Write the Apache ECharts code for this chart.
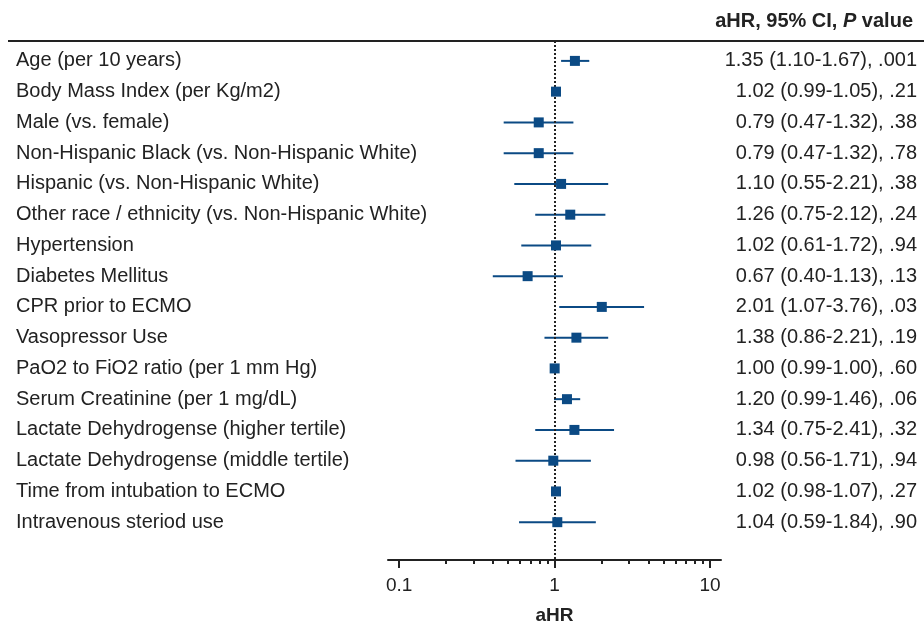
<!DOCTYPE html>
<html>
<head>
<meta charset="utf-8">
<script src="https://cdn.jsdelivr.net/npm/echarts@6/dist/echarts.min.js"></script>
<style>html,body{margin:0;padding:0;background:#fff}#c{width:924px;height:630px}</style>
</head>
<body>
<div id="c"></div>
<script>
const categories = [
  "Age (per 10 years)",
  "Body Mass Index (per Kg/m2)",
  "Male (vs. female)",
  "Non-Hispanic Black (vs. Non-Hispanic White)",
  "Hispanic (vs. Non-Hispanic White)",
  "Other race / ethnicity (vs. Non-Hispanic White)",
  "Hypertension",
  "Diabetes Mellitus",
  "CPR prior to ECMO",
  "Vasopressor Use",
  "PaO2 to FiO2 ratio (per 1 mm Hg)",
  "Serum Creatinine (per 1 mg/dL)",
  "Lactate Dehydrogense (higher tertile)",
  "Lactate Dehydrogense (middle tertile)",
  "Time from intubation to ECMO",
  "Intravenous steriod use"
];
const hr    = [1.35, 1.02, 0.79, 0.79, 1.10, 1.26, 1.02, 0.67, 2.01, 1.38, 1.00, 1.20, 1.34, 0.98, 1.02, 1.04];
const lower = [1.10, 0.99, 0.47, 0.47, 0.55, 0.75, 0.61, 0.40, 1.07, 0.86, 0.99, 0.99, 0.75, 0.56, 0.98, 0.59];
const upper = [1.67, 1.05, 1.32, 1.32, 2.21, 2.12, 1.72, 1.13, 3.76, 2.21, 1.00, 1.46, 2.41, 1.71, 1.07, 1.84];
const pvals = [".001", ".21", ".38", ".78", ".38", ".24", ".94", ".13", ".03", ".19", ".60", ".06", ".32", ".94", ".27", ".90"];
const majorTicks = [0.1, 1, 10];
const minorTicks = [0.2, 0.3, 0.4, 0.5, 0.6, 0.7, 0.8, 0.9, 2, 3, 4, 5, 6, 7, 8, 9];

const L = Math.log10;
const rightText = hr.map((v, i) => `${v.toFixed(2)} (${lower[i].toFixed(2)}-${upper[i].toFixed(2)}), ${pvals[i]}`);
const rowIdx = categories.map((_, i) => i);
const blue = '#0b4a84';
const ink = '#222';
const font = '"Liberation Sans", Arial, Helvetica, sans-serif';

const chart = echarts.init(document.getElementById('c'), null, {renderer: 'canvas'});
const xMin = -1.072, xMax = 1.07;
chart.setOption({
  animation: false,
  textStyle: {fontFamily: font},
  title: {
    text: '{b|aHR, 95% CI, }{i|P}{b| value}',
    right: 6, top: 6,
    textStyle: {
      rich: {
        b: {fontFamily: font, fontWeight: 'bold', fontSize: 20, color: ink},
        i: {fontFamily: font, fontWeight: 'bold', fontStyle: 'italic', fontSize: 20, color: ink}
      }
    }
  },
  graphic: [{
    type: 'line', shape: {x1: 8, y1: 41, x2: 924, y2: 41},
    style: {stroke: ink, lineWidth: 2}, z: 10
  }],
  grid: {left: 388, right: 203, top: 41, bottom: 67},
  xAxis: [{
    type: 'value', min: xMin, max: xMax,
    axisLine: {show: true, onZero: false, lineStyle: {color: ink, width: 2}},
    axisTick: {show: true, customValues: majorTicks.map(L), length: 8, lineStyle: {color: ink, width: 2}},
    axisLabel: {customValues: majorTicks.map(L), formatter: v => String(Math.round(Math.pow(10, v) * 10) / 10), fontSize: 19, color: ink, margin: 16, fontFamily: font},
    splitLine: {show: false},
    name: 'aHR', nameLocation: 'middle', nameGap: 46,
    nameTextStyle: {fontWeight: 'bold', fontSize: 19, color: ink, fontFamily: font}
  }, {
    type: 'value', min: xMin, max: xMax, position: 'bottom',
    axisLine: {show: false, onZero: false},
    axisTick: {show: true, customValues: minorTicks.map(L), length: 4, lineStyle: {color: ink, width: 2}},
    axisLabel: {show: false},
    splitLine: {show: false}
  }],
  yAxis: [{
    type: 'value', inverse: true, min: -0.647, max: 16.23,
    axisLine: {show: false}, axisTick: {show: false}, splitLine: {show: false},
    axisLabel: {customValues: rowIdx, formatter: v => categories[v] || '', align: 'left', margin: 372, fontSize: 20, color: ink, fontFamily: font}
  }, {
    type: 'value', inverse: true, min: -0.647, max: 16.23, position: 'right',
    axisLine: {show: false}, axisTick: {show: false}, splitLine: {show: false},
    axisLabel: {customValues: rowIdx, formatter: v => rightText[v] || '', align: 'right', margin: 196, fontSize: 20, color: ink, fontFamily: font}
  }],
  series: [{
    type: 'custom',
    xAxisIndex: 0, yAxisIndex: 0,
    data: rowIdx.map(i => [L(lower[i]), L(upper[i]), i]),
    renderItem: (params, api) => {
      const a = api.coord([api.value(0), api.value(2)]);
      const b = api.coord([api.value(1), api.value(2)]);
      return {type: 'line', shape: {x1: a[0], y1: a[1], x2: b[0], y2: b[1]}, style: {stroke: blue, lineWidth: 2}};
    },
    encode: {x: [0, 1], y: 2},
    markLine: {
      silent: true, symbol: 'none', label: {show: false},
      lineStyle: {color: ink, type: [2, 2], width: 2},
      data: [{xAxis: 0}]
    }
  }, {
    type: 'scatter',
    xAxisIndex: 0, yAxisIndex: 0,
    symbol: 'rect', symbolSize: 10,
    itemStyle: {color: blue, opacity: 1},
    data: rowIdx.map(i => [L(hr[i]), i]),
    z: 5
  }]
});
</script>
</body>
</html>
